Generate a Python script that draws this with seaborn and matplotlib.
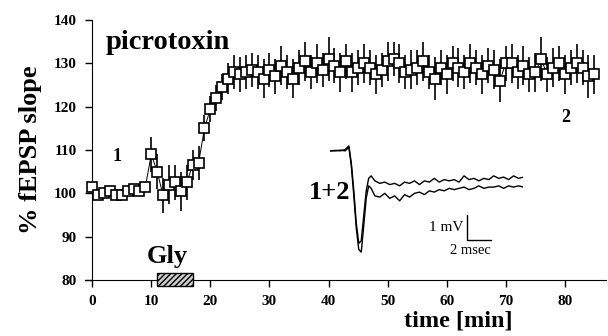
import matplotlib
matplotlib.use('Agg')
import matplotlib.pyplot as plt
import numpy as np
import pandas as pd
import seaborn as sb

# fEPSP slope (% of baseline), one point per minute
time_min = list(range(0, 86))
slope = [101.5, 99.5, 100, 100.5, 99.5, 99.5, 100.5, 101, 100.5, 101.5,
         109, 105, 99.5, 102, 102.5, 100.5, 102.5, 106.5, 107, 115,
         119.5, 122, 124.5, 126.5, 128, 127.5, 128, 128.5, 128, 126.5,
         128.5, 127, 129.5, 128, 126.5, 129, 130.5, 128, 130, 128.5,
         131, 129.5, 128, 130.5, 128, 129, 130, 129, 127.5, 128.5,
         130.5, 131, 130, 128, 128.5, 129, 130.5, 128, 126.5, 129,
         127.5, 130, 129, 128, 130, 129, 127.5, 129.5, 128.5, 126,
         130, 130, 128, 129.5, 127.5, 128, 131, 127.5, 129, 130,
         127.5, 129, 130, 129, 127, 127.5]
sem = [0.8, 0.8, 0.8, 0.8, 0.8, 0.8, 0.8, 0.8, 0.8, 0.8,
       4, 4, 4, 4.5, 4, 4.5, 4, 3.5, 4, 3,
       3, 3, 3, 3.5, 4, 4, 4, 4, 4, 4.5,
       4, 4, 4.5, 4, 4.5, 4, 4.5, 4, 4.5, 4,
       5, 4, 4.5, 4, 4.5, 4, 4.5, 4, 4.5, 4,
       4.5, 4, 4.5, 4, 4.5, 4, 4.5, 4, 5, 4,
       4.5, 4, 4.5, 4, 4.5, 4, 4.5, 4, 4.5, 5,
       4, 4.5, 4, 4.5, 4, 4.5, 5, 4, 4.5, 4,
       4.5, 4, 4.5, 4, 5, 4.5]

# inset field potential traces (1 = baseline, 2 = after picrotoxin)
trace_ms = [0, 0.4, 0.8, 1.2, 1.5, 1.7, 1.9, 2.1, 2.3, 2.5, 2.7, 2.9, 3.1, 3.3,
            3.6, 4.0, 4.4, 4.8, 5.2, 5.6, 6.0, 6.4, 6.8, 7.2, 7.6, 8.0, 8.4,
            8.8, 9.2, 9.6, 10.0, 10.4, 10.8, 11.2, 11.6, 12.0, 12.4, 12.8,
            13.2, 13.6, 14.0, 14.4, 14.8, 15.2, 15.6]
trace1_mv = [0, 0.02, 0, 0.05, 0.2, -0.5, -1.6, -2.9, -3.7, -3.6, -2.6, -1.6, -1.1, -1.0,
             -1.2, -1.3, -1.25, -1.35, -1.3, -1.4, -1.25, -1.3, -1.2, -1.35, -1.2, -1.25,
             -1.1, -1.25, -1.15, -1.2, -1.15, -1.25, -1.0, -1.15, -1.1, -1.2, -1.1,
             -1.15, -1.0, -1.1, -1.05, -1.15, -1.0, -1.1, -1.05]
trace2_mv = [0, 0, 0.03, 0, 0.15, -0.6, -1.8, -3.1, -3.95, -4.05, -3.0, -1.9, -1.4, -1.5,
             -1.8, -1.85, -1.7, -1.9, -1.8, -2.0, -1.75, -1.85, -1.7, -1.65, -1.75, -1.6,
             -1.65, -1.55, -1.6, -1.5, -1.55, -1.5, -1.45, -1.55, -1.5, -1.4, -1.5,
             -1.45, -1.45, -1.4, -1.5, -1.4, -1.45, -1.4, -1.45]

gly_start, gly_end = 11, 17
yticks = [80, 90, 100, 110, 120, 130, 140]
xticks = [0, 10, 20, 30, 40, 50, 60, 70, 80]

sb.set_style('ticks')
plt.rcParams['font.family'] = ['Liberation Serif', 'DejaVu Serif']
for key in ['text.color', 'axes.labelcolor', 'xtick.color', 'ytick.color', 'axes.edgecolor']:
    plt.rcParams[key] = 'black'

fig = plt.figure(figsize=(6.08, 3.36), dpi=100)
ax = fig.add_axes([0.140, 0.167, 0.857, 0.773])

df = pd.DataFrame({'time': time_min, 'slope': slope, 'sem': sem})
ax.errorbar(df['time'], df['slope'], yerr=df['sem'], fmt='none', ecolor='black',
            elinewidth=1.2, capsize=0, zorder=2)
sb.lineplot(data=df, x='time', y='slope', ax=ax, color='black', linewidth=0.7,
            marker='s', markersize=7.2, markerfacecolor='white', markeredgecolor='black',
            markeredgewidth=1.2, zorder=3)

ax.set_xlim(-1.2, 87)
ax.set_ylim(80, 140)
ax.set_xticks(xticks)
ax.set_yticks(yticks)
ax.spines['left'].set_position(('data', 0))
ax.spines['left'].set_bounds(80, 140)
sb.despine(ax=ax)
ax.tick_params(direction='out', length=5, width=1, labelsize=11)
ax.tick_params(axis='y', pad=6)
ax.tick_params(axis='x', pad=6)
for lbl in ax.get_xticklabels() + ax.get_yticklabels():
    lbl.set_fontweight('bold')
ax.set_xlabel('')
ax.set_ylabel('')

# Gly application bar
ax.add_patch(plt.Rectangle((gly_start, 78.5), gly_end - gly_start, 3,
                           facecolor='#cfcfcf', edgecolor='black', hatch='//////',
                           linewidth=1, zorder=4, clip_on=False))

ax.text(2.2, 134.8, 'picrotoxin', fontsize=20.5, fontweight='bold', va='center')
ax.text(4.2, 108.4, '1', fontsize=13, fontweight='bold', va='center', ha='center')
ax.text(80.2, 117.6, '2', fontsize=13, fontweight='bold', va='center', ha='center')
ax.text(43.7, 100.1, '1+2', fontsize=19, fontweight='bold', va='center', ha='right')
ax.text(12.7, 85.4, 'Gly', fontsize=19, fontweight='bold', va='center', ha='center')

fig.text(0.05, 0.555, '% fEPSP slope', rotation=90, fontsize=19, fontweight='bold',
         va='center', ha='center')
fig.text(0.753, 0.045, 'time [min]', fontsize=17.5, fontweight='bold', va='center', ha='center')

# inset with field potentials
ins = ax.inset_axes([40.3, 84, 32.7, 28], transform=ax.transData)
ins.plot(trace_ms, trace1_mv, color='black', linewidth=1)
ins.plot(trace_ms, trace2_mv, color='black', linewidth=1)
ins.set_xlim(0, 15.6)
ins.set_ylim(-4.47, 0.38)
ins.axis('off')
ins.plot([11.0, 11.0, 13.0], [-2.56, -3.56, -3.56], color='black', linewidth=1)
ins.text(10.75, -3.05, '1 mV', fontsize=11, ha='right', va='center')
ins.text(11.3, -4.0, '2 msec', fontsize=10.5, ha='center', va='center')

plt.savefig('out.png', dpi=100)
